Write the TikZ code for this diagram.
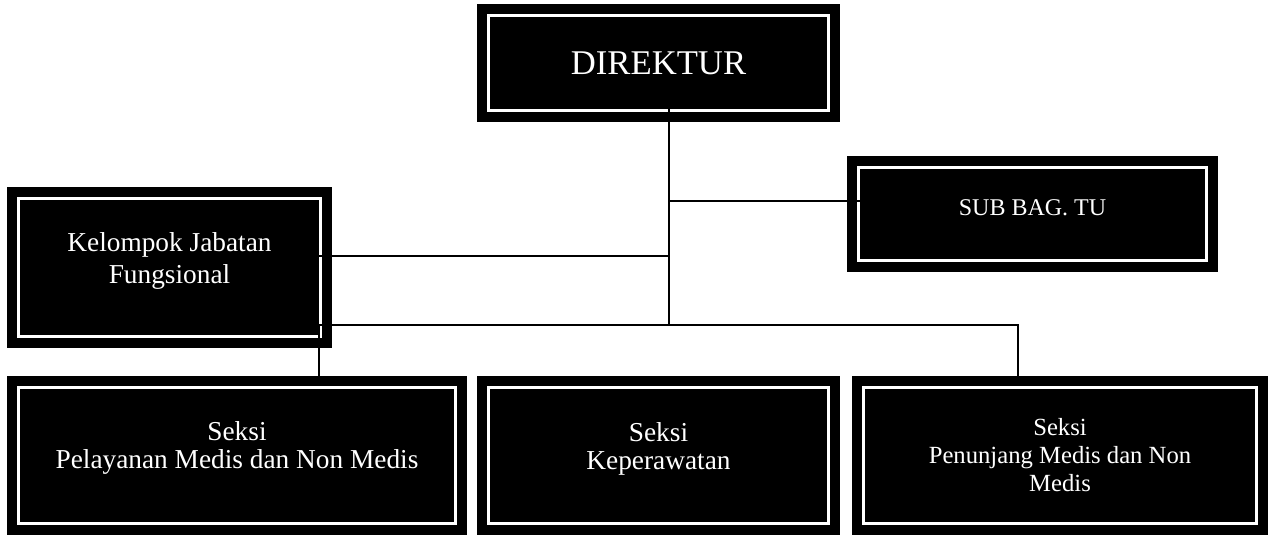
\documentclass[tikz,border=0pt]{standalone}
\usepackage{fontspec}
\setmainfont{Liberation Serif}
\usetikzlibrary{positioning}
\tikzset{
  org box/.style 2 args={
    fill=black,
    draw=black,
    double=white,
    double distance=2.25pt,
    line width=7.5pt,
    minimum width={#1*0.75pt},
    minimum height={#2*0.75pt},
    inner sep=0pt,
    outer sep=0pt,
    text=white,
    align=center,
  },
  connector/.style={
    draw=black,
    line width=1.1pt,
  }
}

\begin{document}
\begin{tikzpicture}[x=0.75pt, y=-0.75pt]
        \useasboundingbox (0,0) rectangle (1269,535);

        \node [org box={340}{95}, font=\fontsize{26}{30}\selectfont] (direktur) at (658.5,63) {DIREKTUR};
        \node [org box={348}{93}, font=\fontsize{18}{22}\selectfont, text depth=9pt] (subbag) at (1032.5,214) {SUB BAG. TU};
        \node [org box={302}{138}, font=\fontsize{20.5}{24}\selectfont, text depth=13.5pt] (jabatan) at (169.5,267.5) {Kelompok Jabatan\\Fungsional};

        \node [org box={437}{136}, font=\fontsize{20.5}{21}\selectfont, text depth=15pt] (pelayanan) at (237,455.5) {Seksi\\Pelayanan Medis dan Non Medis};
        \node [org box={340}{136}, font=\fontsize{20.5}{21}\selectfont, text depth=14.5pt, right=24.75pt of pelayanan] (keperawatan) {Seksi\\Keperawatan};
        \node [org box={393}{136}, font=\fontsize{18.5}{21}\selectfont, right=26.25pt of keperawatan] (penunjang) {Seksi\\Penunjang Medis dan Non\\Medis};

        \coordinate (trunk) at (669,325);
        \coordinate (tu tap) at (669,201);
        \coordinate (jabatan tap) at (669,256);
        \coordinate (left drop) at (319,325);
        \coordinate (right drop) at (1018,325);

        \draw [connector, shorten <=-3pt] (direktur.south -| trunk) -- (trunk);
        \draw [connector, shorten >=-3pt] (tu tap) -- (subbag.west |- tu tap);
        \draw [connector, shorten >=-3pt] (jabatan tap) -- (jabatan.east |- jabatan tap);
        \draw [connector, shorten <=8.6pt, shorten >=8.6pt] (left drop |- pelayanan.north) -- (left drop) -- (right drop) -- (right drop |- penunjang.north);
      \end{tikzpicture}
\end{document}
